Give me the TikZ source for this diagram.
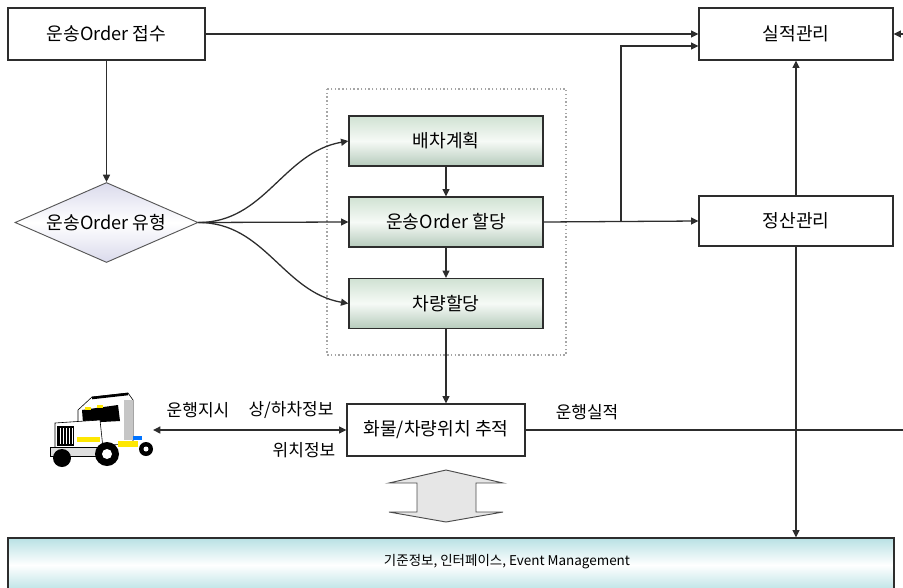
\documentclass[tikz,border=0pt]{standalone}
\usepackage{fontspec}
\setmainfont{Noto Sans CJK KR}
\usetikzlibrary{arrows.meta,shapes.geometric,calc}
\definecolor{linegray}{RGB}{45,45,45}
\definecolor{greentop}{RGB}{208,226,211}
\definecolor{greenmid}{RGB}{246,250,246}
\definecolor{greenbot}{RGB}{182,203,188}
\definecolor{lavender}{RGB}{218,218,236}
\definecolor{cyanbar}{RGB}{184,225,228}
\definecolor{arrowgray}{RGB}{230,230,230}
\tikzset{ box_style/.style = { rectangle % plain box
        , draw = linegray
        , line width = 1.1pt
        , fill = white
        , minimum width = 5.82cm
        , minimum height = 1.5cm
        , font = \fontsize{15.5}{17}\selectfont
        }
        , grad_style/.style = { box_style % shaded step box
        , top color = greentop
        , bottom color = greenbot
        , middle color = greenmid
        }
        , label_style/.style = { rectangle % text on a connector
        , inner sep = 1pt
        , font = \fontsize{14.5}{16}\selectfont
        }
        }

\begin{document}
\begin{tikzpicture}[x=0.03cm, y=-0.03cm, >={Triangle[length=2.2mm,width=2.1mm]},
        type_style/.style={diamond, draw=linegray!80, line width=0.8pt, aspect=2.3, inner sep=0pt,
                minimum width=5.49cm, minimum height=2.4cm,
                top color=lavender, bottom color=lavender, middle color=white,
                font=\fontsize{15.5}{17}\selectfont},
        bar_style/.style={rectangle, draw=linegray, line width=1.1pt, minimum width=26.58cm, minimum height=1.62cm,
                top color=cyanbar, bottom color=cyanbar, middle color=white},
        frame_style/.style={draw=gray!70, line width=1.2pt, dotted},
        edge_style/.style={draw=linegray, line width=1.1pt, ->}]
        \useasboundingbox (0,0) rectangle (903,587);
        \clip (0,0) rectangle (903,587);

        % boxes
        \node [box_style, minimum width=5.91cm, minimum height=1.56cm] (order) at (106.5,34) {운송Order 접수};
        \node [box_style, minimum height=1.56cm] (result) at (796,34) {실적관리};
        \node [box_style] (settle) at (796,221) {정산관리};
        \node [type_style] (type) at (106.5,222.5) {운송Order 유형};
        \draw [frame_style] (327,89) rectangle (566,355);
        \node [grad_style] (plan) at (446,141) {배차계획};
        \node [grad_style] (assign) at (446,222) {운송Order 할당};
        \node [grad_style] (car) at (446,303.5) {차량할당};
        \node [box_style, minimum width=5.34cm, minimum height=1.56cm] (track) at (436,430) {화물/차량위치 추적};
        \node [bar_style] (base) at (451,565) {};
        \node [label_style, font=\fontsize{11.5}{13}\selectfont] (base_text) at (507,562) {기준정보, 인터페이스, Event Management};

        % truck
        \begin{scope}[line width=0.5pt]
                \filldraw [fill=white, draw=black] (78,410) -- (92,397) -- (128,393) -- (133,400) -- (133,444) -- (78,446) -- cycle;
                \fill [gray!45] (124,400) rectangle (133,440);
                \draw [black, line width=2.2pt] (92,398) -- (128,394);
                \fill [black] (82,410) -- (118,405) -- (120,421) -- (83,423) -- cycle;
                \fill [yellow!90!orange] (85,407) rectangle (91,410);
                \fill [yellow!90!orange] (97,405) rectangle (103,408);
                \filldraw [fill=white, draw=black] (55,423) -- (100,420) -- (103,448) -- (55,450) -- cycle;
                \fill [black] (57,426) rectangle (74,446);
                \foreach \gx in {60,63,...,72}
                        \draw [white, line width=0.7pt] (\gx,428) -- (\gx,444);
                \fill [yellow!90!orange] (77,437) rectangle (100,442);
                \filldraw [fill=gray!25, draw=black] (50,447) rectangle (102,456);
                \fill [yellow!90!orange] (118,441) rectangle (138,447);
                \fill [blue!55!cyan] (133,436) rectangle (142,440);
                \fill [black] (62,458) circle (9);
                \fill [black] (107,454) circle (12);
                \fill [white] (107,454) circle (5);
                \fill [black] (146,449) circle (7);
                \fill [white] (146,449) circle (2.5);
        \end{scope}
        \coordinate (truck_tip) at (153,430);
        \coordinate (split) at (621,222);
        \coordinate (loop_out) at (930,300);

        % connectors
        \draw [edge_style] (order.east) -- (result.west);
        \draw [edge_style] (order.south) -- (type.north);
        \draw [edge_style] (type.east) to[out=0, in=190] (plan.west);
        \draw [edge_style] (type.east) -- (assign.west);
        \draw [edge_style] (type.east) to[out=0, in=170] (car.west);
        \draw [edge_style] (plan) -- (assign);
        \draw [edge_style] (assign) -- (car);
        \draw [edge_style] (car.south) -- (car.south |- track.north);
        \draw [edge_style] (assign.east) -- (settle.west);
        \draw [edge_style] (split) |- ($(result.west)+(0,12)$);
        \draw [edge_style] (settle) -- (result);
        \draw [edge_style] (settle.south) -- (settle.south |- base.north);
        \draw [edge_style] (track.east) -| (loop_out) |- (result.east);
        \draw [edge_style, <->] (truck_tip) -- (track.west);

        % connector labels
        \node [label_style] (run_result) at (587,412) {운행실적};
        \node [label_style] (run_order) at (198,410) {운행지시};
        \node [label_style] (load_info) at (291,410) {상/하차정보};
        \node [label_style] (pos_info) at (304,450) {위치정보};

        % exchange arrow
        \draw [line width=0.8pt, draw=gray!60!black, fill=arrowgray] (446,470) -- (503,483) -- (476,483) -- (476,512) -- (503,512) -- (446,522) -- (389,512) -- (417,512) -- (417,483) -- (389,483) -- cycle;
\end{tikzpicture}
\end{document}
